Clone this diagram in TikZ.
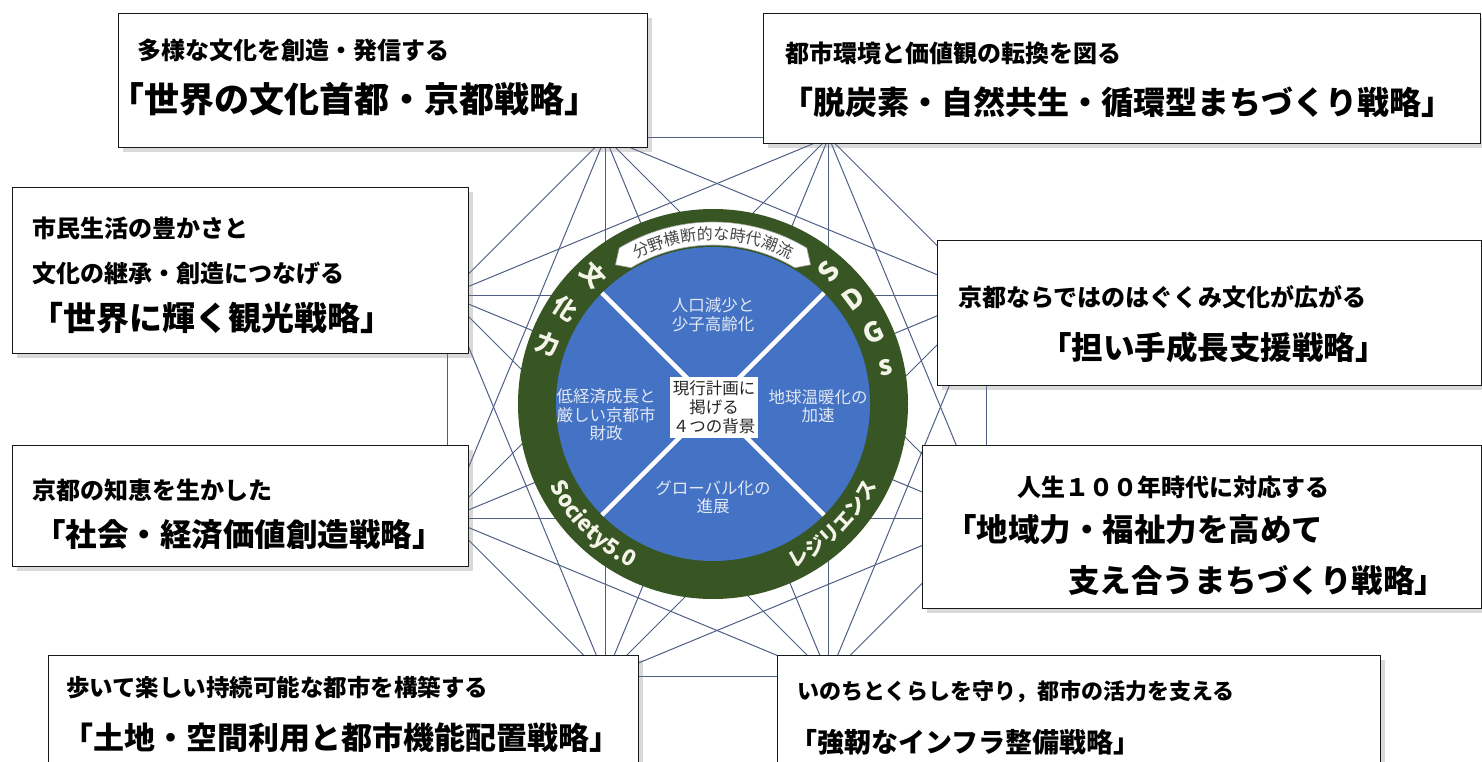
\documentclass[tikz,border=0pt]{standalone}
\usepackage{fontspec}
\setmainfont{Noto Sans CJK JP}
\usepackage{tikz}
\usetikzlibrary{calc}
\usetikzlibrary{shadows}
\usetikzlibrary{decorations.text}
\definecolor{netblue}{RGB}{78,94,132}
\definecolor{ringgreen}{RGB}{55,86,35}
\definecolor{discblue}{RGB}{68,114,196}
\definecolor{disctext}{RGB}{226,233,245}
\definecolor{ringink}{RGB}{244,244,232}
\definecolor{tabink}{RGB}{70,70,70}
\newcommand{\fsz}[2]{\fontsize{#1}{#2}\selectfont}
\tikzset{%
    stratbox/.style={rectangle, draw=black!90, line width=1.3, fill=white,
        anchor=north west, inner sep=0,
        drop shadow={shadow xshift=4pt, shadow yshift=-4pt, opacity=0.3}},
    subline/.style={anchor=west, inner sep=0, font=\bfseries\fsz{24}{24}},
    headline/.style={anchor=west, inner sep=0, font=\bfseries\fsz{31.5}{31.5}},
    netline/.style={draw=netblue, line width=1},
    disclabel/.style={align=center, inner sep=0, text=disctext, font=\fsz{16.5}{18.5}},
    ringchar/.style={inner sep=0, text=ringink, font=\bfseries\fsz{#1}{#1}},
    ringchar/.default=24,
    ringtext/.style={decorate, decoration={text along path, text align=center}}
}

\begin{document}
\begin{tikzpicture}[x=1pt, y=1pt]
    \useasboundingbox (0,0) rectangle (1482,-762);
    % octagon network with all diagonals
    \foreach \i in {0,...,7}
        \coordinate (v\i) at ($(717,-407)+({22.5+45*\i}:292)$);
    \foreach \i in {0,...,7}
        \foreach \j in {0,...,7}
            {\ifnum\i<\j \draw[netline] (v\i) -- (v\j);\fi}

    % centre wheel
    \begin{scope}[shift={(713,-404)}]
        \fill[ringgreen] (0,0) circle[radius=195];
        \fill[discblue] (0,0) circle[radius=157];
        \draw[white, line width=4.5] (45:157) -- (225:157) (135:157) -- (-45:157);
        \node[fill=white, minimum width=88, minimum height=61, inner sep=0, align=center,
            text=black!85, font=\fsz{16.5}{19}] (core) at (1,-3.5) {現行計画に\\掲げる\\４つの背景};
        \node[disclabel] (popul) at (0,89) {人口減少と\\少子高齢化};
        \node[disclabel] (econ) at (-107,-11) {低経済成長と\\厳しい京都市\\財政};
        \node[disclabel] (warm) at (105,-2) {地球温暖化の\\加速};
        \node[disclabel] (glob) at (0,-93) {グローバル化の\\進展};
        % labels on the ring
        \filldraw[fill=white, draw=black!35, line width=0.6]
            (125:170) -- (121:182) arc[start angle=121, end angle=59, radius=182]
            -- (55:170) -- (59:159) arc[start angle=59, end angle=121, radius=159] -- cycle;
        \path[ringtext, decoration={text={|\fsz{16}{16}\color{tabink}|分野横断的な時代潮流}}]
            (122:164) arc[start angle=122, end angle=58, radius=164];
        \foreach \c/\a in {S/49, D/37, G/24, s/12}
            \node[ringchar=27, rotate=\a] (sdg\c) at (\a:176) {\c};
        \foreach \c/\a [count=\k] in {文/133, 化/147, 力/160}
            \node[ringchar=24, rotate=\a-180] (cult\k) at (\a:176) {\c};
        \path[ringtext, decoration={text={|\bfseries\fsz{22}{22}\color{ringink}|Society5.0}}]
            (195:183) arc[start angle=195, end angle=255, radius=183];
        \path[ringtext, decoration={text={|\bfseries\fsz{20}{20}\color{ringink}|レジリエンス}}]
            (-75:183) arc[start angle=-75, end angle=-15, radius=183];
    \end{scope}

    % strategy boxes
    \node[stratbox, minimum width=529, minimum height=134] (culture) at (118,-13) {};
    \node[subline] (culture1) at (137,-50) {多様な文化を創造・発信する};
    \node[headline, font=\bfseries\fsz{35}{35}] (culture2) at (109,-99) {「世界の文化首都・京都戦略」};

    \node[stratbox, minimum width=717, minimum height=130] (carbon) at (763,-13) {};
    \node[subline] (carbon1) at (785,-53) {都市環境と価値観の転換を図る};
    \node[headline, font=\bfseries\fsz{32}{32}] (carbon2) at (781,-102) {「脱炭素・自然共生・循環型まちづくり戦略」};

    \node[stratbox, minimum width=456, minimum height=166] (tourism) at (12,-187) {};
    \node[subline] (tourism1) at (32,-228) {市民生活の豊かさと};
    \node[subline] (tourism2) at (32,-274) {文化の継承・創造につなげる};
    \node[headline, font=\bfseries\fsz{33}{33}] (tourism3) at (30,-318) {「世界に輝く観光戦略」};

    \node[stratbox, minimum width=544, minimum height=145] (bearer) at (937,-240) {};
    \node[subline] (bearer1) at (958,-297) {京都ならではのはぐくみ文化が広がる};
    \node[headline] (bearer2) at (1040,-347) {「担い手成長支援戦略」};

    \node[stratbox, minimum width=456, minimum height=121] (value) at (12,-445) {};
    \node[subline] (value1) at (32,-490) {京都の知恵を生かした};
    \node[headline] (value2) at (34,-535) {「社会・経済価値創造戦略」};

    \node[stratbox, minimum width=559, minimum height=163] (welfare) at (922,-445) {};
    \node[subline] (welfare1) at (1017,-487) {人生１００年時代に対応する};
    \node[headline] (welfare2) at (945,-530) {「地域力・福祉力を高めて};
    \node[headline] (welfare3) at (1068,-580) {支え合うまちづくり戦略」};

    \node[stratbox, minimum width=590, minimum height=130] (landuse) at (48,-655) {};
    \node[subline, font=\bfseries\fsz{23.5}{23.5}] (landuse1) at (66,-688) {歩いて楽しい持続可能な都市を構築する};
    \node[headline, font=\bfseries\fsz{31}{31}] (landuse2) at (62,-738) {「土地・空間利用と都市機能配置戦略」};

    \node[stratbox, minimum width=603, minimum height=130] (infra) at (777,-655) {};
    \node[subline, font=\bfseries\fsz{22}{22}] (infra1) at (797,-692) {いのちとくらしを守り，都市の活力を支える};
    \node[headline, font=\bfseries\fsz{27}{27}] (infra2) at (790,-742) {「強靭なインフラ整備戦略」};
\end{tikzpicture}
\end{document}
